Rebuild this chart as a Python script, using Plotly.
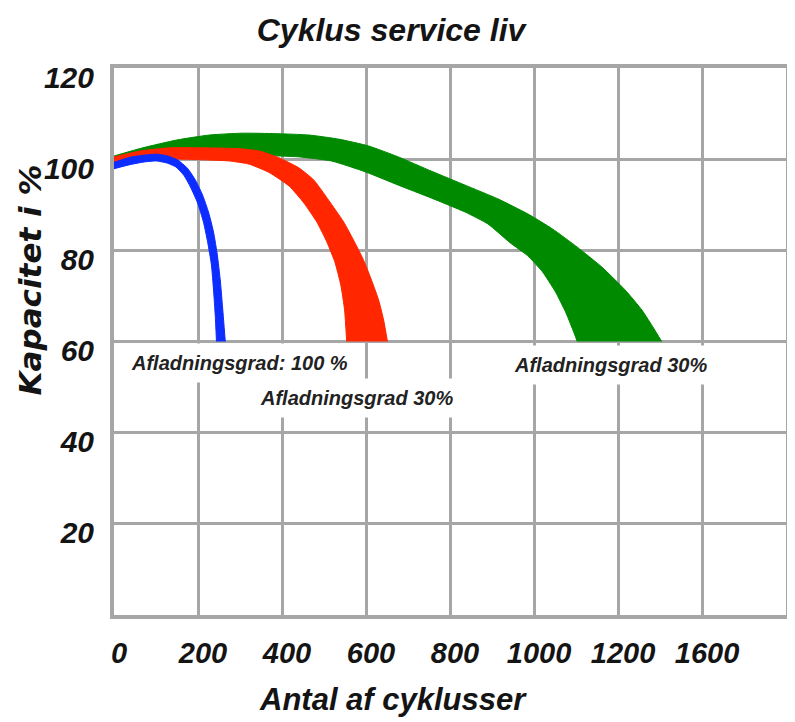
import plotly.graph_objects as go

# ---- data (cycles, capacity %) ----
blue_upper_x = [0, 38, 73, 102, 128, 152, 175, 194, 211, 225, 237, 246, 253, 258, 265]
blue_upper_y = [99.3, 100.4, 100.9, 101.1, 100.7, 99.8, 98.0, 95.4, 92.1, 88.4, 84.0, 79.0, 73.5, 68.1, 60]
blue_lower_x = [0, 38, 73, 102, 128, 147, 166, 182, 199, 213, 223, 232, 237, 241, 244]
blue_lower_y = [97.9, 98.8, 99.4, 99.6, 99.1, 98.3, 96.5, 93.9, 90.4, 86.2, 81.8, 76.8, 71.3, 65.8, 60]

red_upper_x = [0, 62, 133, 204, 298, 346, 393, 440, 476, 511, 547, 570, 594, 613, 630, 642, 651]
red_upper_y = [100.5, 101.8, 102.5, 102.5, 102.3, 101.8, 100.3, 98.1, 95.4, 91.0, 86.2, 82.3,
               77.9, 73.5, 69.1, 64.7, 60]
red_lower_x = [0, 62, 156, 275, 322, 369, 417, 452, 483, 507, 526, 540, 549, 554]
red_lower_y = [98.9, 99.8, 100.0, 99.6, 98.9, 97.1, 94.1, 90.4, 86.2, 81.8, 77.4, 72.4, 66.9, 60]

green_upper_x = [0, 69, 149, 227, 305, 386, 464, 535, 606, 677, 755, 836, 914, 985, 1044,
                 1103, 1162, 1217, 1257, 1285, 1304]
green_upper_y = [100.7, 102.5, 104.2, 105.3, 105.7, 105.6, 105.3, 104.4, 102.9, 100.5, 97.4,
                 94.3, 91.3, 88.0, 84.7, 80.7, 76.3, 71.3, 66.9, 62.9, 60]
green_lower_x = [0, 85, 204, 322, 440, 518, 599, 677, 755, 836, 890, 944, 985, 1020, 1051,
                 1075, 1091, 1103]
green_lower_y = [99.8, 100.2, 100.9, 100.9, 100.5, 99.6, 97.2, 94.3, 91.5, 88.4, 85.8, 81.6,
                 78.8, 75.3, 70.9, 66.5, 62.9, 60]

x_tick_vals = [0, 200, 400, 600, 800, 1000, 1200, 1400]
x_tick_text = ["0", "200", "400", "600", "800", "1000", "1200", "1600"]
y_tick_vals = [20, 40, 60, 80, 100, 120]

label_texts = ["Afladningsgrad: 100 %", "Afladningsgrad 30%", "Afladningsgrad 30%"]
label_x = [19, 325, 930]
label_y = [55.3, 47.6, 54.8]

title_text = "Cyklus service liv"
x_title = "Antal af cyklusser"
y_title = "Kapacitet i %"

FONT = "Arial, Liberation Sans, sans-serif"
GRID = "#a6a6a6"
TXT = "#141414"


def band(fig, ux, uy, lx, ly, color):
    # lower edge (no fill), then upper edge filled down to it
    fig.add_trace(go.Scatter(
        x=lx, y=ly, mode="lines",
        line=dict(color=color, width=1, shape="spline", smoothing=0.5),
        hoverinfo="skip", showlegend=False,
    ))
    fig.add_trace(go.Scatter(
        x=ux, y=uy, mode="lines", fill="tonexty", fillcolor=color,
        line=dict(color=color, width=1, shape="spline", smoothing=0.5),
        hoverinfo="skip", showlegend=False,
    ))


fig = go.Figure()
band(fig, green_upper_x, green_upper_y, green_lower_x, green_lower_y, "#008a00")
band(fig, red_upper_x, red_upper_y, red_lower_x, red_lower_y, "#ff2600")
band(fig, blue_upper_x, blue_upper_y, blue_lower_x, blue_lower_y, "#0d2cff")

for t, xv, yv in zip(label_texts, label_x, label_y):
    fig.add_annotation(
        x=xv, y=yv, xref="x", yref="y", text=t, showarrow=False,
        xanchor="left", yanchor="middle",
        font=dict(family=FONT, size=20, color="#222", weight="bold", style="italic"),
        bgcolor="white", borderpad=8,
    )

# axis titles (positions in plot-area fractions)
fig.add_annotation(
    x=0.4157, y=-0.155, xref="paper", yref="paper", text=x_title,
    showarrow=False, xanchor="center", yanchor="middle",
    font=dict(family=FONT, size=31, color=TXT, weight="bold", style="italic"),
)
fig.add_annotation(
    x=-0.1243, y=0.6124, xref="paper", yref="paper", text=y_title,
    showarrow=False, xanchor="center", yanchor="middle", textangle=-90,
    font=dict(family="DejaVu Sans, Arial, sans-serif", size=31, color=TXT,
              weight="bold", style="italic"),
)

fig.update_xaxes(
    range=[0, 1600], tickvals=x_tick_vals, ticktext=x_tick_text,
    showgrid=True, gridcolor=GRID, gridwidth=3, zeroline=False,
    showline=True, linecolor=GRID, linewidth=4, mirror=True,
    ticks="", ticklabelstandoff=9, ticklabelshift=5,
    tickfont=dict(family=FONT, size=29, color=TXT, weight="bold", style="italic"),
)
fig.update_yaxes(
    range=[0, 120], tickvals=y_tick_vals,
    showgrid=True, gridcolor=GRID, gridwidth=3, zeroline=False,
    showline=True, linecolor=GRID, linewidth=4, mirror=True,
    ticks="", ticklabelstandoff=10, ticklabelshift=9,
    tickfont=dict(family=FONT, size=30, color=TXT, weight="bold", style="italic"),
)

# the page adds an 8px body margin; figure is sized to fill the rest
fig.update_layout(
    width=787, height=714,
    margin=dict(l=106, r=5, t=60, b=107),
    paper_bgcolor="white", plot_bgcolor="white",
    title=dict(text=title_text, x=0.4867, xanchor="center", y=0.9692, yanchor="middle",
               font=dict(family=FONT, size=32, color=TXT, weight="bold", style="italic")),
    showlegend=False,
)

fig.write_html("out.html")
